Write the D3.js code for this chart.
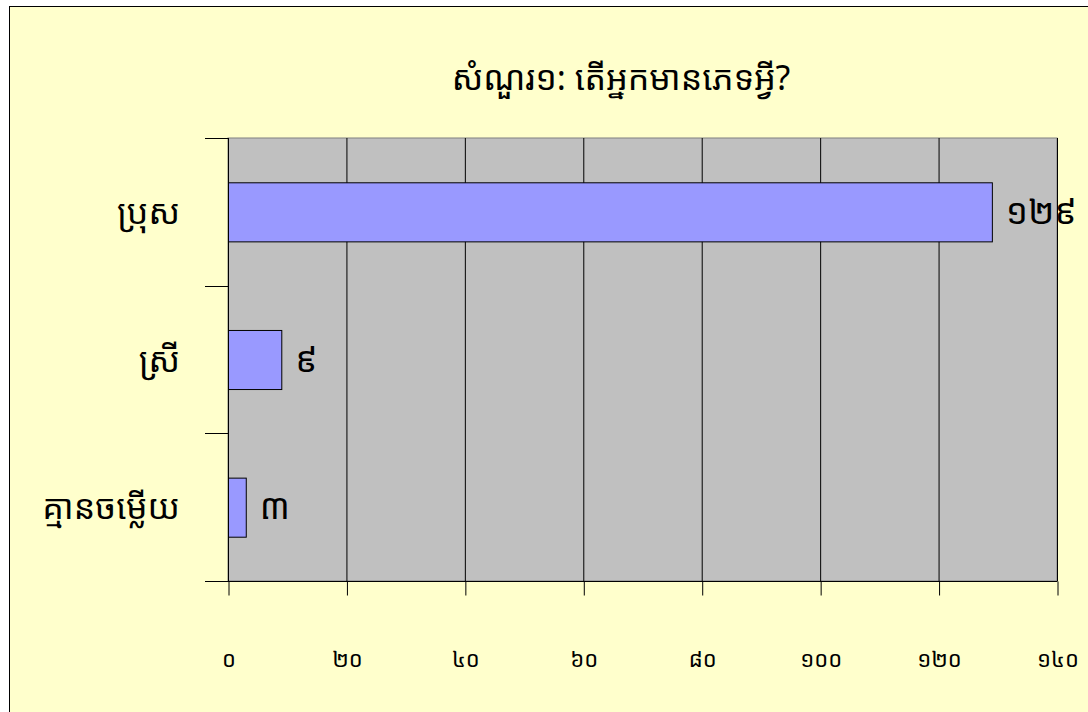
<!DOCTYPE html>
<html>
<head>
<meta charset="utf-8">
<script src="https://cdn.jsdelivr.net/npm/d3@7"></script>
<style>
  body { margin: 0; background: #fff; }
  svg text { font-family: "Noto Sans Khmer", "Khmer OS", "Noto Sans", sans-serif; fill: #000; }
</style>
</head>
<body>
<svg id="chart" width="1088" height="712"></svg>
<script>
const title = 'សំណួរ១: តើអ្នកមានភេទអ្វី?'
const categories = ['ប្រុស', 'ស្រី', 'គ្មានចម្លើយ']
const values = [129, 9, 3]
const tickValues = [0, 20, 40, 60, 80, 100, 120, 140]

// khmer digits for ticks and value labels
const khmerDigits = '០១២៣៤៥៦៧៨៩'
const toKhmer = (n) => String(n).replace(/\d/g, (d) => khmerDigits[+d])

const svg = d3.select('#chart')
const plot = { left: 228, top: 138, right: 1057, bottom: 581 }

// outer chart area
svg.append('rect')
  .attr('x', 9.5).attr('y', 6.5)
  .attr('width', 1100).attr('height', 720)
  .attr('fill', '#FFFFCC')
  .attr('stroke', '#000')
  .attr('stroke-width', 1)

svg.append('text')
  .attr('x', 621).attr('y', 90)
  .attr('text-anchor', 'middle')
  .style('font-size', '34px')
  .text(title)

const x = d3.scaleLinear().domain([0, 140]).range([plot.left, plot.right])
const y = d3.scaleBand().domain(categories).range([plot.top, plot.bottom]).paddingInner(0.6).paddingOuter(0.3)
const yBand = d3.scaleBand().domain(categories).range([plot.top, plot.bottom])

// plot background
svg.append('rect')
  .attr('x', plot.left).attr('y', plot.top)
  .attr('width', plot.right - plot.left).attr('height', plot.bottom - plot.top)
  .attr('fill', '#C0C0C0')
  .attr('stroke', '#808080')

// gridlines
svg.append('g')
  .selectAll('line')
  .data(tickValues.slice(1))
  .join('line')
  .attr('x1', (d) => x(d) + 0.5).attr('x2', (d) => x(d) + 0.5)
  .attr('y1', plot.top).attr('y2', plot.bottom)
  .attr('stroke', '#000')

// bars
svg.append('g')
  .selectAll('rect')
  .data(values)
  .join('rect')
  .attr('x', x(0) + 0.5)
  .attr('y', (d, i) => y(categories[i]) + 0.5)
  .attr('width', (d) => x(d) - x(0))
  .attr('height', y.bandwidth())
  .attr('fill', '#9999FF')
  .attr('stroke', '#000')

// value labels
svg.append('g')
  .selectAll('text')
  .data(values)
  .join('text')
  .attr('x', (d) => x(d) + 14)
  .attr('y', (d, i) => y(categories[i]) + y.bandwidth() / 2 + 12)
  .style('font-size', '35px')
  .text((d) => toKhmer(d))

// x axis
const xAxis = d3.axisBottom(x)
  .tickValues(tickValues)
  .tickSize(14)
  .tickPadding(56)
  .tickFormat(toKhmer)
svg.append('g')
  .attr('transform', `translate(0.5,${plot.bottom + 0.5})`)
  .call(xAxis)
  .call((g) => g.select('.domain').attr('d', `M${plot.left - 23},0H${plot.right}`))
  .call((g) => g.selectAll('text').style('font-size', '22px'))

// y axis with ticks between categories
const bounds = categories.map((c) => yBand(c)).concat([plot.bottom])
svg.append('line')
  .attr('x1', plot.left + 0.5).attr('x2', plot.left + 0.5)
  .attr('y1', plot.top).attr('y2', plot.bottom)
  .attr('stroke', '#000')
svg.append('g')
  .selectAll('line')
  .data(bounds)
  .join('line')
  .attr('x1', plot.left - 23).attr('x2', plot.left)
  .attr('y1', (d) => Math.round(d) + 0.5).attr('y2', (d) => Math.round(d) + 0.5)
  .attr('stroke', '#000')

svg.append('g')
  .selectAll('text')
  .data(categories)
  .join('text')
  .attr('x', 180)
  .attr('y', (d) => yBand(d) + yBand.bandwidth() / 2 + 12)
  .attr('text-anchor', 'end')
  .style('font-size', '34px')
  .text((d) => d)
</script>
</body>
</html>
